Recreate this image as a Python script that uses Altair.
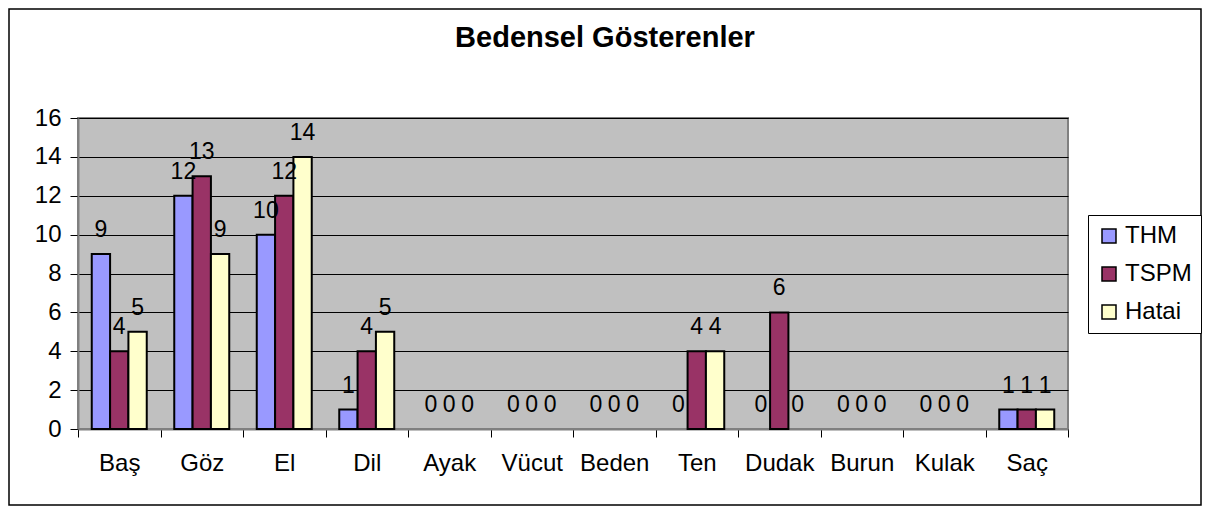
import altair as alt
import pandas as pd

categories = ["Baş", "Göz", "El", "Dil", "Ayak", "Vücut", "Beden", "Ten", "Dudak", "Burun", "Kulak", "Saç"]
series = ["THM", "TSPM", "Hatai"]
thm = [9, 12, 10, 1, 0, 0, 0, 0, 0, 0, 0, 1]
tspm = [4, 13, 12, 4, 0, 0, 0, 4, 6, 0, 0, 1]
hatai = [5, 9, 14, 5, 0, 0, 0, 4, 0, 0, 0, 1]
colors = ["#9999FF", "#993366", "#FFFFCC"]
y_ticks = [0, 2, 4, 6, 8, 10, 12, 14, 16]
title_text = "Bedensel Gösterenler"

rows = []
for name, vals in zip(series, [thm, tspm, hatai]):
    for c, v in zip(categories, vals):
        rows.append({"cat": c, "series": name, "value": v})
df = pd.DataFrame(rows)

FONT = "Liberation Sans"

x_enc = alt.X("cat:N", sort=categories, title=None,
              scale=alt.Scale(paddingInner=0, paddingOuter=0),
              axis=alt.Axis(labelAngle=0, labelFontSize=24, labelFont=FONT, labelColor="black",
                            tickBand="extent", tickSize=8, tickColor="black", tickWidth=1,
                            labelPadding=14, domainColor="#808080", domainWidth=2,
                            labelOverlap=False))
xo_enc = alt.XOffset("series:N", sort=series,
                     scale=alt.Scale(domain=series, paddingInner=0, paddingOuter=0.75))
y_enc = alt.Y("value:Q", title=None,
              scale=alt.Scale(domain=[0, 16], nice=False),
              axis=alt.Axis(values=y_ticks, tickCount=20, labelFontSize=24, labelFont=FONT,
                            labelColor="black", tickSize=8, tickColor="black", tickWidth=1,
                            labelPadding=9, grid=True, gridColor="black", gridWidth=1,
                            domainColor="#808080", domainWidth=2, labelOverlap=False))

base = alt.Chart(df)

bars = base.mark_bar(stroke="black", strokeWidth=2).encode(
    x=x_enc, xOffset=xo_enc, y=y_enc,
    color=alt.Color("series:N", sort=series,
                    scale=alt.Scale(domain=series, range=colors),
                    legend=alt.Legend(title=None, orient="none", legendX=1010, legendY=97,
                                      symbolType="square", symbolSize=196,
                                      symbolStrokeColor="black", symbolStrokeWidth=1.5,
                                      symbolOpacity=1, labelFontSize=24, labelFont=FONT,
                                      labelColor="black", labelOffset=4, rowPadding=14,
                                      padding=9, strokeColor="black", fillColor="white")),
).transform_filter(alt.datum.value > 0)

labels = base.mark_text(fontSize=23, font=FONT, color="black", baseline="alphabetic", dy=-17).encode(
    x=x_enc, xOffset=xo_enc, y=y_enc, text="value:Q",
)

frame = alt.Chart(alt.Data(values=[{}])).mark_rect(
    fill="transparent", stroke="black", strokeWidth=1.5
).encode(x=alt.value(-69), x2=alt.value(1123), y=alt.value(-109), y2=alt.value(387))

title = alt.Chart(alt.Data(values=[{"t": title_text}])).mark_text(
    fontSize=29, font=FONT, fontWeight="bold", color="black", align="center", baseline="alphabetic"
).encode(x=alt.value(527), y=alt.value(-71), text="t:N")

chart = alt.layer(frame, title, bars, labels).properties(
    width=990, height=311,
    autosize=alt.AutoSizeParams(type="none"),
    padding={"left": 70, "top": 110, "right": 134, "bottom": 78},
    background="white",
).configure_view(fill="#C0C0C0", stroke="#808080", strokeWidth=2)

chart.save("out.html", embed_options={"renderer": "svg", "actions": False})
